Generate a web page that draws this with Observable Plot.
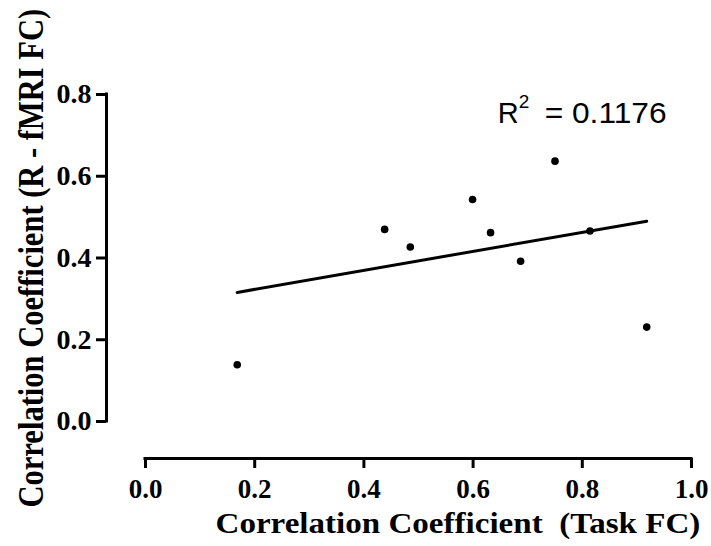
<!DOCTYPE html>
<html>
<head>
<meta charset="utf-8">
<script src="https://cdn.jsdelivr.net/npm/d3@7"></script>
<script src="https://cdn.jsdelivr.net/npm/@observablehq/plot@0.6"></script>
<style>
  html, body { margin: 0; padding: 0; background: #fff; }
  #chart svg { display: block; }
</style>
</head>
<body>
<div id="chart"></div>
<script>
// Data
const taskFC = [0.168, 0.438, 0.485, 0.599, 0.632, 0.687, 0.750, 0.814, 0.918];
const restFC = [0.139, 0.470, 0.427, 0.543, 0.462, 0.392, 0.637, 0.466, 0.231];
const xTicks = [0, 0.2, 0.4, 0.6, 0.8, 1.0];
const yTicks = [0, 0.2, 0.4, 0.6, 0.8];
const xLabel = "Correlation Coefficient  (Task FC)";
const yLabel = "Correlation Coefficient (R - fMRI FC)";
const r2Base = "R";
const r2Sup = "2";
const r2Value = "= 0.1176";
const r2Pos = {x: 0.645, y: 0.754};

const points = taskFC.map((x, i) => ({x, y: restFC[i]}));

const serif = "'Liberation Serif', 'Times New Roman', serif";
const sans = "'Liberation Sans', Arial, sans-serif";

const plot = Plot.plot({
  width: 711,
  height: 546,
  marginLeft: 145,
  marginRight: 20,
  marginTop: 94,
  marginBottom: 125,
  style: {background: "#fff", color: "#000", overflow: "visible"},
  x: {domain: [0, 1], nice: false},
  y: {domain: [0, 0.8], nice: false},
  marks: [
    // offset axis lines
    Plot.ruleX([0], {y1: 0, y2: 0.8, dx: -39, stroke: "#000", strokeWidth: 3, strokeLinecap: "square"}),
    Plot.ruleY([0], {x1: 0, x2: 1, dy: 37, stroke: "#000", strokeWidth: 3, strokeLinecap: "square"}),
    Plot.axisY({
      ticks: yTicks, tickFormat: d3.format(".1f"), tickSize: 10, tickPadding: 5,
      strokeWidth: 3, dx: -39, fontSize: 28, fontWeight: "bold", fontFamily: serif,
      label: null, stroke: "#000", fill: "#000"
    }),
    Plot.axisX({
      ticks: xTicks, tickFormat: d3.format(".1f"), tickSize: 10, tickPadding: 10,
      strokeWidth: 3, dy: 37, fontSize: 27, fontWeight: "bold", fontFamily: serif,
      label: null, stroke: "#000", fill: "#000"
    }),
    Plot.linearRegressionY(points, {x: "x", y: "y", ci: 0, stroke: "#000", strokeWidth: 3}),
    Plot.dot(points, {x: "x", y: "y", r: 3.8, fill: "#000", stroke: null}),
    // R² annotation
    Plot.text([r2Base], {
      x: () => r2Pos.x, y: () => r2Pos.y, text: d => d, textAnchor: "start",
      fontSize: 29, fontFamily: sans, fill: "#000"
    }),
    Plot.text([r2Sup], {
      x: () => r2Pos.x, y: () => r2Pos.y, text: d => d, textAnchor: "start", dx: 21, dy: -11,
      fontSize: 19, fontFamily: sans, fill: "#000"
    }),
    Plot.text([r2Value], {
      x: () => r2Pos.x, y: () => r2Pos.y, text: d => d, textAnchor: "start", dx: 47,
      fontSize: 29, fontFamily: sans, fill: "#000"
    }),
    Plot.text([yLabel], {
      text: d => d, frameAnchor: "left", rotate: -90, dx: -114, dy: 249.5, textAnchor: "start",
      fontSize: 35, fontWeight: "bold", fontFamily: serif, fill: "#000"
    }),
    Plot.text([xLabel], {
      text: d => d, frameAnchor: "bottom", dx: -203, dy: 111, textAnchor: "start",
      fontSize: 30, fontWeight: "bold", fontFamily: serif, fill: "#000"
    })
  ]
});

document.getElementById("chart").appendChild(plot);

// fit label lengths to the reference by scaling along the text direction
const fit = {[yLabel]: 499, [xLabel]: 485, [r2Value]: 122};
d3.select(plot).selectAll("text").each(function() {
  const t = this.textContent;
  if (fit[t] !== undefined) {
    const natural = this.getComputedTextLength();
    if (natural > 0) {
      const s = fit[t] / natural;
      const tr = this.getAttribute("transform") || "";
      this.setAttribute("transform", (tr + ` scale(${s},1)`).trim());
    }
  }
});
</script>
</body>
</html>
